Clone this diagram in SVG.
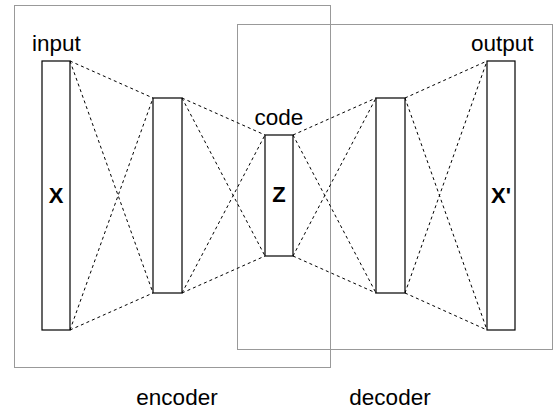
<svg xmlns="http://www.w3.org/2000/svg" width="553" height="412" viewBox="0 0 553 412">
<style>
.box{fill:none;stroke:#999;stroke-width:1}
.layer{fill:#fff;stroke:#000;stroke-width:1.2}
.conn{stroke:#000;stroke-width:1;stroke-dasharray:3,3;fill:none}
.lbl{font-family:"Liberation Sans",Arial,sans-serif;font-size:22.5px;fill:#000}
.big{font-family:"Liberation Sans",Arial,sans-serif;font-size:22px;font-weight:bold;fill:#000;text-anchor:middle}
</style>
<rect width="553" height="412" fill="#fff"/>
<g id="encoder-box">
<rect class="box" x="14.5" y="5.5" width="316" height="362"/>
<text class="lbl" x="177" y="405" text-anchor="middle">encoder</text>
</g>
<g id="decoder-box">
<rect class="box" x="237.5" y="24.5" width="315" height="325"/>
<text class="lbl" x="390" y="405" text-anchor="middle">decoder</text>
</g>
<g id="connectors">
<line class="conn" x1="70" y1="61" x2="153" y2="98"/>
<line class="conn" x1="70" y1="61" x2="153" y2="293"/>
<line class="conn" x1="70" y1="330" x2="153" y2="98"/>
<line class="conn" x1="70" y1="330" x2="153" y2="293"/>
<line class="conn" x1="182" y1="98" x2="265" y2="135"/>
<line class="conn" x1="182" y1="98" x2="265" y2="256"/>
<line class="conn" x1="182" y1="293" x2="265" y2="135"/>
<line class="conn" x1="182" y1="293" x2="265" y2="256"/>
<line class="conn" x1="293" y1="135" x2="376" y2="98"/>
<line class="conn" x1="293" y1="135" x2="376" y2="293"/>
<line class="conn" x1="293" y1="256" x2="376" y2="98"/>
<line class="conn" x1="293" y1="256" x2="376" y2="293"/>
<line class="conn" x1="405" y1="98" x2="487" y2="61"/>
<line class="conn" x1="405" y1="98" x2="487" y2="330"/>
<line class="conn" x1="405" y1="293" x2="487" y2="61"/>
<line class="conn" x1="405" y1="293" x2="487" y2="330"/>
</g>
<g id="input">
<rect class="layer" x="42" y="61" width="28" height="269"/>
<text class="lbl" x="32" y="51">input</text>
<text class="big" x="56" y="203">X</text>
</g>
<g id="hidden1">
<rect class="layer" x="153" y="98" width="29" height="195"/>
</g>
<g id="code">
<rect class="layer" x="265" y="135" width="28" height="121"/>
<text class="lbl" x="279" y="125" text-anchor="middle">code</text>
<text class="big" x="279" y="202">Z</text>
</g>
<g id="hidden2">
<rect class="layer" x="376" y="98" width="29" height="195"/>
</g>
<g id="output">
<rect class="layer" x="487" y="61" width="28" height="269"/>
<text class="lbl" x="471" y="51">output</text>
<text class="big" x="501" y="203">X'</text>
</g>
</svg>
